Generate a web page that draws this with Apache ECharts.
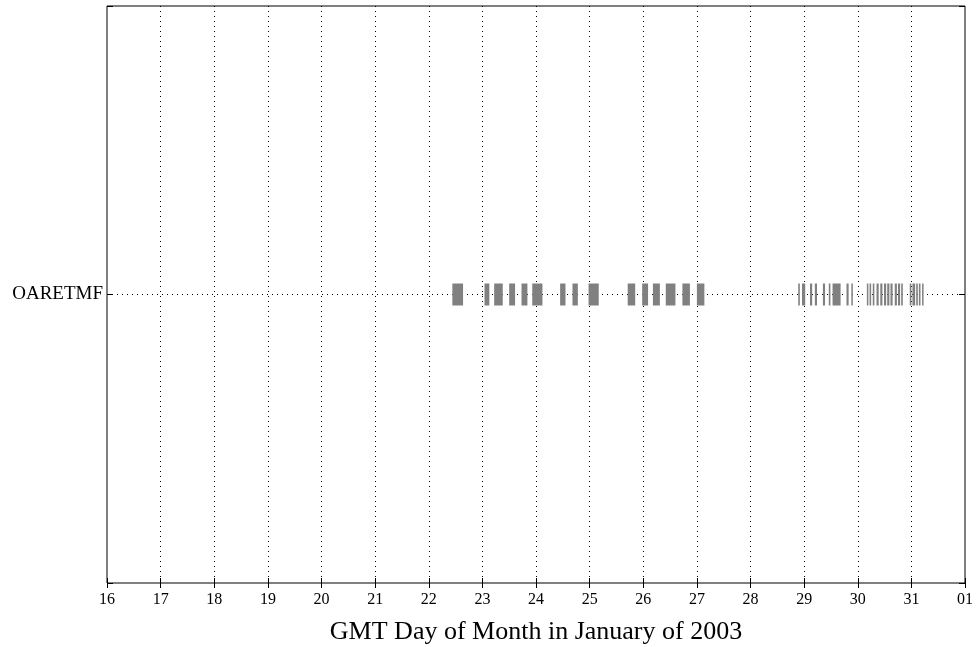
<!DOCTYPE html>
<html><head><meta charset="utf-8">
<script src="https://cdn.jsdelivr.net/npm/echarts@6/dist/echarts.min.js"></script>
<style>html,body{margin:0;padding:0;background:#fff}#c{width:976px;height:647px}</style>
</head><body><div id="c"></div>
<script>
var trackName = 'OARETMF';
var xTickLabels = ['16','17','18','19','20','21','22','23','24','25','26','27','28','29','30','31','01'];
var segStart = [22.44,23.04,23.22,23.50,23.73,23.93,24.45,24.68,24.98,25.71,25.98,26.18,26.42,26.73,27.00,
  28.89,28.96,29.11,29.20,29.35,29.46,29.53,29.79,29.88,
  30.17,30.22,30.28,30.35,30.42,30.49,30.55,30.61,30.69,30.75,30.81,
  30.97,31.02,31.09,31.14,31.20];
var segEnd = [22.64,23.13,23.38,23.61,23.84,24.12,24.55,24.78,25.17,25.85,26.09,26.31,26.60,26.87,27.14,
  28.92,29.02,29.15,29.24,29.39,29.49,29.68,29.83,29.90,
  30.19,30.25,30.31,30.39,30.46,30.53,30.59,30.65,30.73,30.79,30.84,
  31.00,31.07,31.12,31.17,31.22];
var xLabel = 'GMT Day of Month in January of 2003';

var segData = segStart.map(function(s,i){ return [s, segEnd[i], 1]; });
var font = 'Liberation Serif';
var chart = echarts.init(document.getElementById('c'));
chart.setOption({
  animation: false,
  backgroundColor: '#fff',
  grid: {left: 107, right: 11, top: 6, bottom: 64, outerBoundsMode: 'none', containLabel: false,
    show: true, borderColor: '#000', borderWidth: 1, backgroundColor: 'transparent'},
  xAxis: [{
    type: 'value', min: 16, max: 32, interval: 1, position: 'bottom',
    axisLine: {show: false},
    axisTick: {show: true, inside: true, length: 5, lineStyle: {color: '#000'}},
    axisLabel: {color: '#000', fontFamily: font, fontSize: 16, margin: 9,
      formatter: function(v){ return xTickLabels[Math.round(v-16)]; }},
    splitLine: {show: true, showMinLine: false, showMaxLine: false, lineStyle: {color: '#000', type: [1,4], width: 1}},
    name: xLabel, nameLocation: 'middle', nameGap: 36,
    nameTextStyle: {color: '#000', fontFamily: font, fontSize: 26}
  },{
    type: 'value', min: 16, max: 32, interval: 1, position: 'top',
    axisLine: {show: false},
    axisTick: {show: true, inside: true, length: 5, lineStyle: {color: '#000'}},
    axisLabel: {show: false}, splitLine: {show: false}
  }],
  yAxis: [{
    type: 'value', min: 0, max: 2, interval: 1,
    axisLine: {show: false},
    axisTick: {show: true, inside: true, length: 6, lineStyle: {color: '#000'}},
    axisLabel: {color: '#000', fontFamily: font, fontSize: 19, margin: 4,
      formatter: function(v){ return v === 1 ? trackName : ''; }},
    splitLine: {show: true, showMinLine: false, showMaxLine: false, lineStyle: {color: '#000', type: [1,4], width: 1}}
  },{
    type: 'value', min: 0, max: 2, interval: 1, position: 'right',
    axisLine: {show: false},
    axisTick: {show: true, inside: true, length: 6, lineStyle: {color: '#000'}},
    axisLabel: {show: false}, splitLine: {show: false}
  }],
  series: [{
    type: 'custom',
    data: segData,
    encode: {x: [0,1], y: 2},
    renderItem: function(params, api){
      var a = api.coord([api.value(0), api.value(2)]);
      var b = api.coord([api.value(1), api.value(2)]);
      var w = Math.max(1.5, b[0]-a[0]);
      return {type: 'rect', shape: {x: a[0], y: a[1]-11, width: w, height: 22},
        style: {fill: '#808080'}};
    }
  }]
});
</script></body></html>
